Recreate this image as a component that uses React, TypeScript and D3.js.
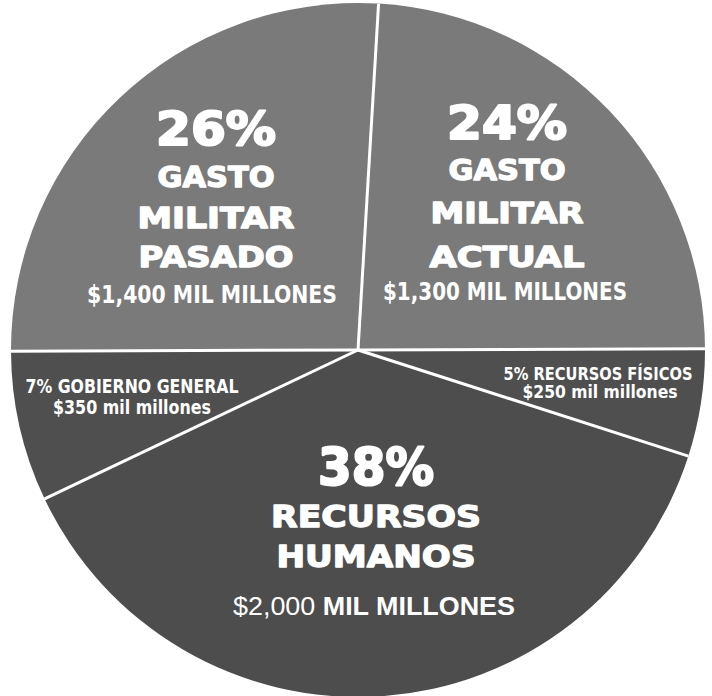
import { useMemo } from 'react'
import * as d3 from 'd3'

// slices in clockwise order, starting just right of 12 o'clock
const categories = [
  'GASTO MILITAR ACTUAL',
  'RECURSOS FÍSICOS',
  'RECURSOS HUMANOS',
  'GOBIERNO GENERAL',
  'GASTO MILITAR PASADO',
]
const percents = [24, 5, 38, 7, 26]
const amounts = [
  '$1,300 MIL MILLONES',
  '$250 mil millones',
  '$2,000 MIL MILLONES',
  '$350 mil millones',
  '$1,400 MIL MILLONES',
]
const fills = ['#7a7a7a', '#4f4f4f', '#4d4d4d', '#4f4f4f', '#7a7a7a']

const SIZE = { width: 712, height: 696 }
const CENTER = { x: 358, y: 350 }
const RADIUS = 347
const START = (3.4 * Math.PI) / 180

const HEAVY = "'DejaVu Sans', 'Liberation Sans', sans-serif"
const NARROW = "'Liberation Sans Narrow', 'DejaVu Sans Condensed', 'Liberation Sans', sans-serif"
const PLAIN = "'Liberation Sans', Arial, sans-serif"

// label layout (page coords), by slice index
type BigLayout = {
  kind: 'big'
  cx: number
  pct: [number, number, number] // baseline, width, font size
  words: [number, number, number][]
  amount: [number, number, number, number] // center x, baseline, width, font size
}
type SmallLayout = {
  kind: 'small'
  lines: [number, number, number][] // center x, baseline, width
  size: number
}
const LAYOUT: (BigLayout | SmallLayout)[] = [
  {
    kind: 'big',
    cx: 507,
    pct: [139, 120, 47],
    words: [
      [180, 117, 27.5],
      [223, 153, 27.5],
      [267, 155, 27.5],
    ],
    amount: [505, 300, 244, 25],
  },
  {
    kind: 'small',
    lines: [
      [598, 380, 189],
      [600, 398, 155],
    ],
    size: 17,
  },
  {
    kind: 'big',
    cx: 376,
    pct: [485, 116, 51],
    words: [
      [527, 210, 30],
      [567, 199, 30],
    ],
    amount: [374, 615, 282, 25],
  },
  {
    kind: 'small',
    lines: [
      [132, 393, 213],
      [132, 414, 158],
    ],
    size: 19.5,
  },
  {
    kind: 'big',
    cx: 216,
    pct: [145, 120, 47],
    words: [
      [187, 117, 27.5],
      [228, 157, 27.5],
      [267, 155, 27.5],
    ],
    amount: [212, 303, 250, 25],
  },
]

export default function App() {
  const arcs = useMemo(() => {
    const pie = d3
      .pie<number>()
      .sort(null)
      .value((d) => d)
      .startAngle(START)
      .endAngle(START + 2 * Math.PI)
    return pie(percents)
  }, [])

  const arcGen = d3.arc<d3.PieArcDatum<number>>().innerRadius(0).outerRadius(RADIUS)

  return (
    <svg
      width={SIZE.width}
      height={SIZE.height}
      viewBox={`0 0 ${SIZE.width} ${SIZE.height}`}
      style={{ position: 'absolute', left: 0, top: 0, background: '#fff' }}
    >
      <g transform={`translate(${CENTER.x} ${CENTER.y})`}>
        {arcs.map((a, i) => (
          <path key={categories[i]} d={arcGen(a) || ''} fill={fills[i]} />
        ))}
        {arcs.map((a, i) => {
          const x = RADIUS * Math.sin(a.startAngle)
          const y = -RADIUS * Math.cos(a.startAngle)
          return (
            <line key={'sep' + i} x1={0} y1={0} x2={x} y2={y} stroke="#fff" strokeWidth={3} />
          )
        })}
      </g>

      {LAYOUT.map((lay, i) => {
        if (lay.kind === 'big') {
          const words = categories[i].split(' ')
          const parts = amounts[i].match(/^(\$[\d,]+)\s(.*)$/)
          const regularDollar = i === 2
          return (
            <g key={'lab' + i} fill="#fff" textAnchor="middle">
              <text
                x={lay.cx}
                y={lay.pct[0]}
                fontFamily={HEAVY}
                fontWeight={900}
                fontSize={lay.pct[2]}
                textLength={lay.pct[1]}
                lengthAdjust="spacingAndGlyphs"
                stroke="#fff"
                strokeWidth={2.2}
                strokeLinejoin="round"
              >
                {percents[i]}%
              </text>
              {words.map((w, k) => (
                <text
                  key={w}
                  x={lay.cx}
                  y={lay.words[k][0]}
                  fontFamily={HEAVY}
                  fontWeight={900}
                  fontSize={lay.words[k][2]}
                  textLength={lay.words[k][1]}
                  lengthAdjust="spacingAndGlyphs"
                  stroke="#fff"
                  strokeWidth={1.3}
                  strokeLinejoin="round"
                >
                  {w}
                </text>
              ))}
              {regularDollar && parts ? (
                <text
                  x={lay.amount[0]}
                  y={lay.amount[1]}
                  fontFamily={PLAIN}
                  fontSize={lay.amount[3]}
                  textLength={lay.amount[2]}
                  lengthAdjust="spacingAndGlyphs"
                >
                  <tspan fontWeight={400}>{parts[1]} </tspan>
                  <tspan fontWeight={700}>{parts[2]}</tspan>
                </text>
              ) : (
                <text
                  x={lay.amount[0]}
                  y={lay.amount[1]}
                  fontFamily={NARROW}
                  fontWeight={700}
                  fontSize={lay.amount[3]}
                  textLength={lay.amount[2]}
                  lengthAdjust="spacingAndGlyphs"
                >
                  {amounts[i]}
                </text>
              )}
            </g>
          )
        }
        const texts = [`${percents[i]}% ${categories[i]}`, amounts[i]]
        return (
          <g key={'lab' + i} fill="#fff" textAnchor="middle">
            {texts.map((t, k) => (
              <text
                key={t}
                x={lay.lines[k][0]}
                y={lay.lines[k][1]}
                fontFamily={NARROW}
                fontWeight={700}
                fontSize={lay.size}
                textLength={lay.lines[k][2]}
                lengthAdjust="spacingAndGlyphs"
              >
                {t}
              </text>
            ))}
          </g>
        )
      })}
    </svg>
  )
}
